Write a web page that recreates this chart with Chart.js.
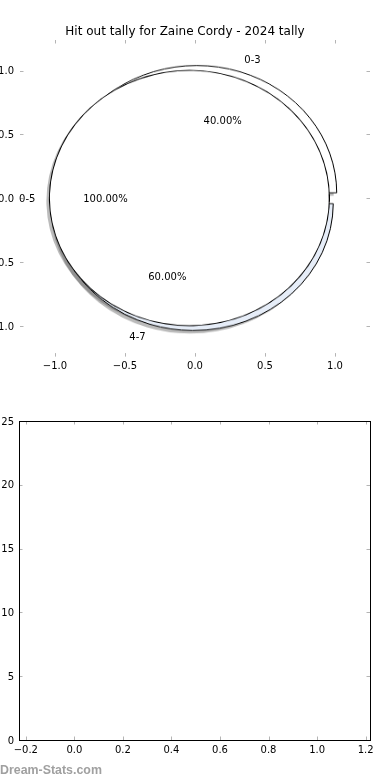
<!DOCTYPE html>
<html>
<head>
<meta charset="utf-8">
<script src="https://cdn.jsdelivr.net/npm/chart.js@4.4.1/dist/chart.umd.min.js"></script>
<style>
  html, body { margin: 0; padding: 0; background: #fff; }
  #page { position: relative; width: 390px; height: 780px; overflow: hidden; }
  .box { position: absolute; }
  #pieLayer { position: absolute; left: 0; top: 0; width: 390px; height: 390px; }
  #topBox { left: 0; top: 0; width: 390px; height: 390px; }
  #bottomBox { left: 0; top: 390px; width: 390px; height: 390px; }
  #watermark { position: absolute; left: 0; top: 763px; font: bold 12.4px "Liberation Sans", sans-serif; line-height: 14px; color: #a0a0a0; }
</style>
</head>
<body>
<div id="page">
  <div id="pieLayer"></div>
  <div class="box" id="topBox"><canvas id="topChart"></canvas></div>
  <div class="box" id="bottomBox"><canvas id="bottomChart"></canvas></div>
  <div id="watermark">Dream-Stats.com</div>
</div>
<script>
const chartTitle = 'Hit out tally for Zaine Cordy - 2024 tally';

// first pie (drawn underneath), second pie on top
const pieOneLabels = ['0-3', '4-7'];
const pieOneValues = [40, 60];
const pieOneColors = ['#ffffff', '#e6edf8'];
const pieTwoLabels = ['0-5'];
const pieTwoValues = [100];
const pieTwoColors = ['#ffffff'];
const explode = 0.04;
const shadowColor = 'rgba(77,77,77,0.38)';

const topXTicks = [-1, -0.5, 0, 0.5, 1];
const topXTickLabels = ['\u22121.0', '\u22120.5', '0.0', '0.5', '1.0'];
const topYTicks = [-1, -0.5, 0, 0.5, 1];
const topYTickLabels = ['\u22121.0', '\u22120.5', '0.0', '0.5', '1.0'];

// lower panel is empty
const bottomValues = [];
const bottomXTicks = [-0.2, 0, 0.2, 0.4, 0.6, 0.8, 1.0, 1.2];
const bottomXTickLabels = ['\u22120.2', '0.0', '0.2', '0.4', '0.6', '0.8', '1.0', '1.2'];
const bottomYTicks = [0, 5, 10, 15, 20, 25];
const bottomYTickLabels = ['0', '5', '10', '15', '20', '25'];

Chart.defaults.font.family = '"DejaVu Sans", sans-serif';
Chart.defaults.font.size = 10;
Chart.defaults.color = '#000';

// matplotlib style ticks pointing into the axes, on all four sides
const inwardTicks = {
  id: 'inwardTicks',
  afterDraw(chart) {
    const {ctx, chartArea: a, scales: {x, y}} = chart;
    const len = 3.5;
    ctx.save();
    ctx.strokeStyle = '#b4b4b4';
    ctx.lineWidth = 1;
    ctx.beginPath();
    x.ticks.forEach(t => {
      const px = Math.round(x.getPixelForValue(t.value)) + 0.5;
      ctx.moveTo(px, a.bottom); ctx.lineTo(px, a.bottom - len);
      ctx.moveTo(px, a.top); ctx.lineTo(px, a.top + len);
    });
    y.ticks.forEach(t => {
      const py = Math.round(y.getPixelForValue(t.value)) + 0.5;
      ctx.moveTo(a.left, py); ctx.lineTo(a.left + len, py);
      ctx.moveTo(a.right, py); ctx.lineTo(a.right - len, py);
    });
    ctx.stroke();
    ctx.restore();
  }
};

const frame = {
  id: 'frame',
  afterDraw(chart) {
    const {ctx, chartArea: a} = chart;
    ctx.save();
    ctx.strokeStyle = '#000';
    ctx.lineWidth = 1;
    ctx.strokeRect(Math.round(a.left) + 0.5, Math.round(a.top) + 0.5,
      Math.round(a.right) - Math.round(a.left), Math.round(a.bottom) - Math.round(a.top));
    ctx.restore();
  }
};

// wedge labels and percentages, placed like matplotlib's pie()
const pieLabels = {
  id: 'pieLabels',
  afterDraw(chart) {
    const {ctx, scales: {x, y}} = chart;
    ctx.save();
    ctx.font = '10px "DejaVu Sans", sans-serif';
    ctx.fillStyle = '#000';
    ctx.textBaseline = 'middle';
    [[pieOneLabels, pieOneValues], [pieTwoLabels, pieTwoValues]].forEach(([labels, values]) => {
      const total = values.reduce((s, v) => s + v, 0);
      let start = 0;
      values.forEach((v, i) => {
        const mid = 2 * Math.PI * (start + v / 2) / total;
        start += v;
        const c = Math.cos(mid), s = Math.sin(mid);
        const lx = (explode + 1.1) * c, ly = (explode + 1.1) * s;
        ctx.textAlign = lx > 0 ? 'left' : 'right';
        ctx.fillText(labels[i], x.getPixelForValue(lx), y.getPixelForValue(ly) + 1);
        ctx.textAlign = 'center';
        ctx.fillText((100 * v / total).toFixed(2) + '%',
          x.getPixelForValue((explode + 0.6) * c), y.getPixelForValue((explode + 0.6) * s) + 1);
      });
    });
    ctx.restore();
  }
};

const topChart = new Chart(document.getElementById('topChart'), {
  type: 'scatter',
  data: { datasets: [] },
  options: {
    responsive: true,
    maintainAspectRatio: false,
    animation: false,
    events: [],
    layout: { padding: { right: 20 } },
    plugins: {
      legend: { display: false },
      tooltip: { enabled: false },
      title: {
        display: true,
        text: chartTitle,
        color: '#000',
        font: { size: 12, weight: 'normal', lineHeight: 1.2 },
        padding: { top: 25, bottom: 0.6 }
      }
    },
    scales: {
      x: {
        type: 'linear', min: -1.25, max: 1.25,
        grid: { display: false, drawTicks: false },
        border: { display: false },
        ticks: { padding: 4, autoSkip: false, maxRotation: 0, callback: (v, i) => topXTickLabels[i] },
        afterBuildTicks: s => { s.ticks = topXTicks.map(v => ({ value: v })); },
        afterFit: s => { s.height = 33.4; }
      },
      y: {
        type: 'linear', min: -1.24, max: 1.24,
        grid: { display: false, drawTicks: false },
        border: { display: false },
        ticks: { padding: 6, labelOffset: 1, autoSkip: false, callback: (v, i) => topYTickLabels[i] },
        afterBuildTicks: s => { s.ticks = topYTicks.map(v => ({ value: v })); },
        afterFit: s => { s.width = 20; }
      }
    }
  },
  plugins: [inwardTicks, pieLabels]
});

// pies sit under the transparent axes chart, stretched to the axes' data scale
const xs = topChart.scales.x, ys = topChart.scales.y;
const cx = xs.getPixelForValue(0), cy = ys.getPixelForValue(0);
const rx = xs.getPixelForValue(1) - cx;
const ry = cy - ys.getPixelForValue(1);
const squash = ry / rx;
const boxSize = Math.ceil(2 * (rx + 20));
const pieLayer = document.getElementById('pieLayer');

function wedgeChart(values, index, opt) {
  const box = document.createElement('div');
  box.style.cssText = 'position:absolute;left:' + (cx - boxSize / 2 + (opt.dx || 0)) + 'px;top:' +
    (cy - boxSize / 2 + (opt.dy || 0)) + 'px;width:' + boxSize + 'px;height:' + boxSize +
    'px;transform:scaleY(' + squash + ');transform-origin:50% 50%;';
  const canvas = document.createElement('canvas');
  box.appendChild(canvas);
  pieLayer.appendChild(box);

  const total = values.reduce((s, v) => s + v, 0);
  const circ = 2 * Math.PI * values[index] / total;
  // Chart.js moves an offset arc by offset/4 and grows it; take the growth back off
  const shift = explode * rx;
  const grow = shift * (1 - Math.sin(Math.min(Math.PI, circ)));
  const data = values.slice().reverse();
  const j = values.length - 1 - index;
  const pick = (on, off) => data.map((_, k) => (k === j ? on : off));
  const outer = (opt.outer || rx) - grow;
  // a lone slice gets a little overlap so the offset seam closes
  const single = values.length === 1;
  const options = {
    responsive: true,
    maintainAspectRatio: false,
    animation: false,
    events: [],
    rotation: single ? 88 : 90,
    circumference: single ? 364 : 360,
    radius: outer,
    plugins: { legend: { display: false }, tooltip: { enabled: false } }
  };
  if (opt.inner) options.cutout = (100 * (opt.inner - grow) / outer) + '%';
  new Chart(canvas, {
    type: opt.inner ? 'doughnut' : 'pie',
    data: {
      datasets: [{
        data: data,
        backgroundColor: pick(opt.fill, 'rgba(0,0,0,0)'),
        borderColor: pick(opt.line || 'rgba(0,0,0,0)', 'rgba(0,0,0,0)'),
        borderWidth: pick(opt.line ? 1 : 0, 0),
        offset: 4 * shift
      }]
    },
    options: options
  });
}

const sdx = -0.02 * rx, sdy = 0.02 * ry;
pieOneValues.forEach((v, i) => wedgeChart(pieOneValues, i, { fill: shadowColor, dx: sdx, dy: sdy }));
pieTwoValues.forEach((v, i) => wedgeChart(pieTwoValues, i, { fill: shadowColor, dx: sdx, dy: sdy }));
pieOneValues.forEach((v, i) => wedgeChart(pieOneValues, i, { fill: pieOneColors[i], line: '#000' }));
pieTwoValues.forEach((v, i) => {
  wedgeChart(pieTwoValues, i, { fill: pieTwoColors[i] });
  wedgeChart(pieTwoValues, i, { fill: '#000', outer: rx + 0.5, inner: rx - 0.5 });
});

new Chart(document.getElementById('bottomChart'), {
  type: 'scatter',
  data: { datasets: [{ data: bottomValues }] },
  options: {
    responsive: true,
    maintainAspectRatio: false,
    animation: false,
    events: [],
    layout: { padding: { top: 31, right: 20 } },
    plugins: { legend: { display: false }, tooltip: { enabled: false } },
    scales: {
      x: {
        type: 'linear', min: -0.228, max: 1.218,
        grid: { display: false, drawTicks: false },
        border: { display: false },
        ticks: { padding: 4, autoSkip: false, maxRotation: 0, callback: (v, i) => bottomXTickLabels[i] },
        afterBuildTicks: s => { s.ticks = bottomXTicks.map(v => ({ value: v })); },
        afterFit: s => { s.height = 40; }
      },
      y: {
        type: 'linear', min: 0, max: 25,
        grid: { display: false, drawTicks: false },
        border: { display: false },
        ticks: { padding: 5, labelOffset: 1, autoSkip: false, callback: (v, i) => bottomYTickLabels[i] },
        afterBuildTicks: s => { s.ticks = bottomYTicks.map(v => ({ value: v })); },
        afterFit: s => { s.width = 19; }
      }
    }
  },
  plugins: [inwardTicks, frame]
});
</script>
</body>
</html>
